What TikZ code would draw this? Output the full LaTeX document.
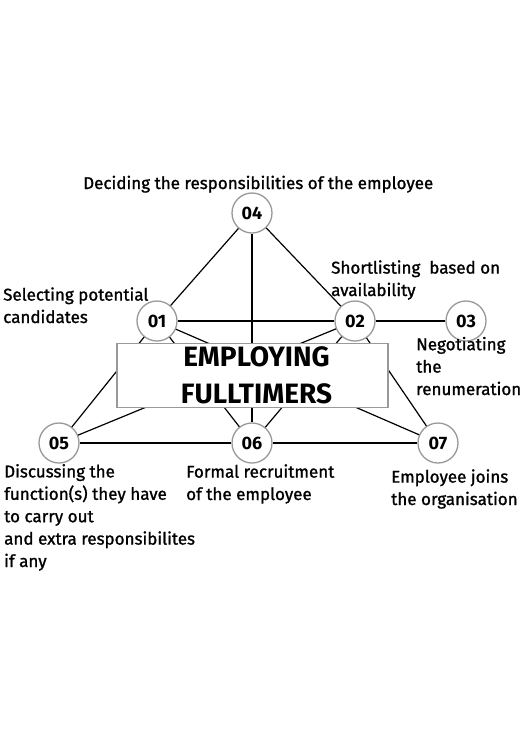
\documentclass[tikz,border=0pt]{standalone}
\usepackage{fontspec}
\setmainfont{Fira Sans}
\newfontfamily\heavyfont{Fira Sans}[FakeBold=1.2]
\usetikzlibrary{calc}
\tikzset{
  every node/.style = {font = \heavyfont\fontsize{17}{22.4}\selectfont}
}
\tikzset{
  stepcircle/.style = {circle, draw=black!40, line width=1.3pt, fill=white,
    minimum size=40pt, inner sep=0pt, font=\fontsize{18}{18}\selectfont\bfseries},
  lbl/.style = {anchor=base west, align=left, inner sep=0pt},
  link/.style = {line width=1.2pt}
}
\begin{document}
\begin{tikzpicture}[x=1pt,y=-1pt]
\useasboundingbox (0,0) rectangle (525,745);

% Location of points
%           P4
%     P1          P2    P3
%     P5    P6    P7
\node[stepcircle] (P4) at (252,213) {04};
\node[stepcircle] (P1) at (157,321) {01};
\node[stepcircle] (P2) at (355,321) {02};
\node[stepcircle] (P3) at (466,321) {03};
\node[stepcircle] (P5) at (59,443) {05};
\node[stepcircle] (P6) at (252,443) {06};
\node[stepcircle] (P7) at (438,443) {07};

% The links
\draw[link] (P4) -- (P1);
\draw[link] (P4) -- (P2);
\draw[link] (P4) -- (P6);
\draw[link] (P1) -- (P2);
\draw[link] (P2) -- (P3);
\draw[link] (P1) -- (P5);
\draw[link] (P1) -- (P6);
\draw[link] (P1) -- (P7);
\draw[link] (P2) -- (P5);
\draw[link] (P2) -- (P6);
\draw[link] (P2) -- (P7);
\draw[link] (P5) -- (P6);
\draw[link] (P6) -- (P7);

% The title box
\node[draw=black!40, line width=1.3pt, fill=white, minimum width=271pt,
  minimum height=64pt, inner sep=0pt, align=center,
  font=\fontsize{28}{37}\selectfont\bfseries] (T) at (252.5,375.5)
  {\hspace*{8pt}EMPLOYING\\\hspace*{8pt}FULLTIMERS};

% The labels (placed at the baseline of their last line)
\node[lbl] (L4) at (83,189) {Deciding the responsibilities of the employee};
\node[lbl] (L1) at (3,323) {Selecting potential\\candidates};
\node[lbl] (L2) at (331,296) {Shortlisting\ \ based on\\availability};
\node[lbl] (L3) at (416,395) {Negotiating\\the\\renumeration};
\node[lbl] (L5) at (4,567) {Discussing the\\function(s) they have\\to carry out\\and extra responsibilites\\if any};
\node[lbl] (L6) at (186,500) {Formal recruitment\\of the employee};
\node[lbl] (L7) at (391,505) {Employee joins\\the organisation};
\end{tikzpicture}
\end{document}
